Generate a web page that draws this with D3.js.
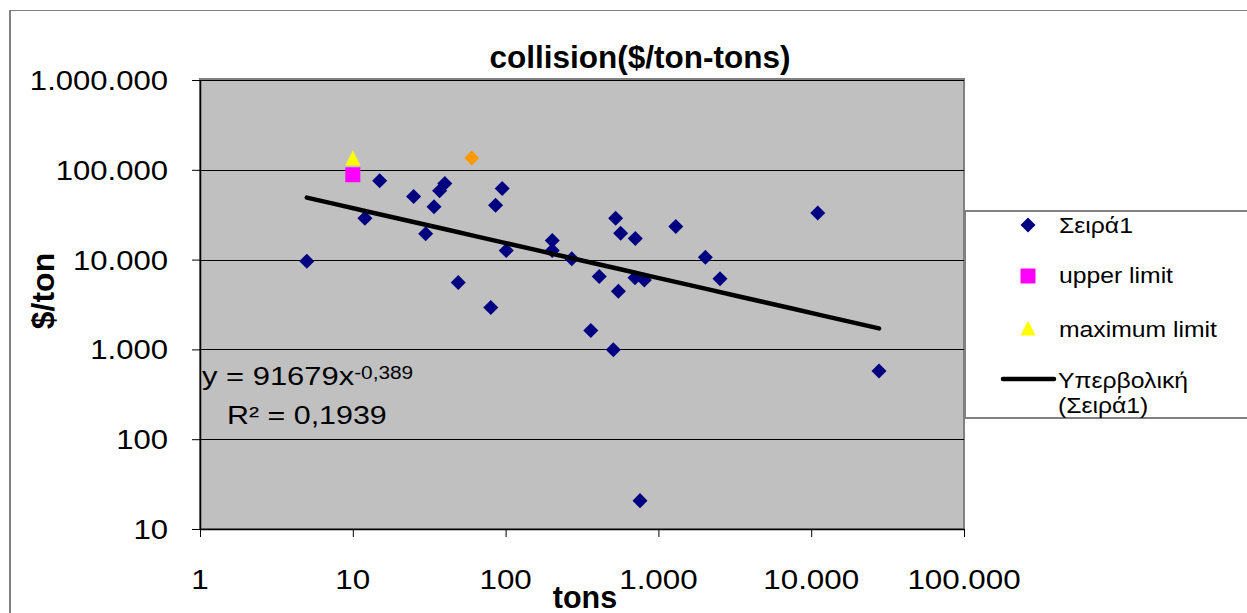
<!DOCTYPE html>
<html>
<head>
<meta charset="utf-8">
<script src="https://cdn.jsdelivr.net/npm/d3@7/dist/d3.min.js"></script>
<style>
  html, body { margin: 0; padding: 0; background: #fff; }
  svg { display: block; font-family: "Liberation Sans", Arial, sans-serif; }
</style>
</head>
<body>
<svg id="chart" width="1247" height="613"></svg>
<script>
// Collision cost per ton vs. vessel tonnage (log-log)
const seriesX = [5, 12, 15, 25, 30, 34, 37, 40, 49, 80, 86, 95, 101, 202, 202, 271, 410, 525, 566, 706,
                 1300, 703, 809, 547, 2030, 2530, 361, 507, 758, 11040, 27780];
const seriesY = [9600, 28800, 75500, 50500, 19400, 38800, 58400, 70500, 5550, 2930, 40200, 62000, 12600,
                 16300, 12600, 10200, 6470, 28800, 19600, 17200, 23400, 6270, 5940, 4450, 10600, 6110,
                 1625, 993, 20.7, 33000, 574];
const upperX = [10];
const upperY = [88000];
const maxLimitX = [10];
const maxLimitY = [135000];
const extraX = [60];
const extraY = [135000];

// Power trend line y = a * x^b
const trendA = 91679;
const trendB = -0.389;
const trendR2 = "0,1939";

const xTicks = [1, 10, 100, 1000, 10000, 100000];
const yTicks = [10, 100, 1000, 10000, 100000, 1000000];

const legendLabels = ["Σειρά1", "upper limit", "maximum limit", "Υπερβολική", "(Σειρά1)"];

const svg = d3.select("#chart");
const grLocale = d3.formatLocale({decimal: ",", thousands: ".", grouping: [3], currency: ["", "€"]});
const fmt = grLocale.format(",d");

const plot = {left: 200, right: 964, top: 80, bottom: 529};
const x = d3.scaleLog().domain([1, 100000]).range([plot.left, plot.right]);
const y = d3.scaleLog().domain([10, 1000000]).range([plot.bottom, plot.top]);

// chart area frame
svg.append("rect").attr("x", 10).attr("y", 10.5).attr("width", 1300).attr("height", 700)
  .attr("fill", "#fff").attr("stroke", "#808080").attr("stroke-width", 1);
svg.append("line").attr("x1", 10).attr("x2", 10).attr("y1", 10).attr("y2", 613)
  .attr("stroke", "#808080").attr("stroke-width", 2);

// plot area
svg.append("rect").attr("x", plot.left).attr("y", plot.top - 1)
  .attr("width", plot.right - plot.left).attr("height", plot.bottom - plot.top + 1)
  .attr("fill", "#c0c0c0").attr("stroke", "#808080").attr("stroke-width", 2);

// horizontal gridlines
svg.append("g").selectAll("line").data(yTicks.slice(1)).join("line")
  .attr("x1", plot.left).attr("x2", plot.right)
  .attr("y1", d => Math.round(y(d)) + 0.5).attr("y2", d => Math.round(y(d)) + 0.5)
  .attr("stroke", "#000").attr("stroke-width", 1);

// axes
const xAxis = d3.axisBottom(x).tickValues(xTicks).tickFormat("").tickSize(8).tickSizeOuter(0);
svg.append("g").attr("transform", `translate(0,${plot.bottom})`).call(xAxis)
  .call(g => g.select(".domain").attr("stroke", "#000").attr("stroke-width", 1.5))
  .call(g => g.selectAll(".tick line").attr("stroke", "#000"));
const yAxis = d3.axisLeft(y).tickValues(yTicks).tickFormat("").tickSize(8).tickSizeOuter(0);
svg.append("g").attr("transform", `translate(${plot.left},0)`).call(yAxis)
  .call(g => g.select(".domain").attr("stroke", "#000").attr("stroke-width", 1.5))
  .call(g => g.selectAll(".tick line").attr("stroke", "#000"));

// tick labels (slightly wide glyphs)
svg.append("g").selectAll("text").data(xTicks).join("text")
  .attr("transform", d => `translate(${x(d)},589) scale(1.1,1)`)
  .attr("text-anchor", "middle").attr("font-size", 28.5).attr("fill", "#000")
  .text(d => fmt(d));
svg.append("g").selectAll("text").data(yTicks).join("text")
  .attr("transform", d => `translate(168,${y(d) + 10}) scale(1.09,1)`)
  .attr("text-anchor", "end").attr("font-size", 28.5).attr("fill", "#000")
  .text(d => fmt(d));

// titles
svg.append("text").attr("x", 640).attr("y", 68).attr("text-anchor", "middle")
  .attr("font-size", 31.5).attr("font-weight", "bold").text("collision($/ton-tons)");
svg.append("text").attr("transform", "translate(54,291) rotate(-90)").attr("text-anchor", "middle")
  .attr("font-size", 32).attr("font-weight", "bold").text("$/ton");
svg.append("text").attr("x", 585).attr("y", 608).attr("text-anchor", "middle")
  .attr("font-size", 30.5).attr("font-weight", "bold").text("tons");

// marker shapes
const diamond = d3.symbol().type(d3.symbolSquare).size(113);
const square = d3.symbol().type(d3.symbolSquare).size(225);
const triangle = "M0,-7.5L7.5,7.5L-7.5,7.5Z";

const marks = svg.append("g");
// trend line
const xMin = d3.min(seriesX), xMax = d3.max(seriesX);
const trendPts = d3.range(0, 21).map(i => {
  const xv = Math.exp(Math.log(xMin) + (Math.log(xMax) - Math.log(xMin)) * i / 20);
  return [xv, trendA * Math.pow(xv, trendB)];
});

marks.selectAll(".s1").data(d3.zip(seriesX, seriesY)).join("path").attr("class", "s1")
  .attr("d", diamond)
  .attr("transform", d => `translate(${x(d[0])},${y(d[1])}) rotate(45)`)
  .attr("fill", "#000080");

marks.append("path")
  .attr("d", d3.line().x(d => x(d[0])).y(d => y(d[1]))(trendPts))
  .attr("fill", "none").attr("stroke", "#000").attr("stroke-width", 4.5).attr("stroke-linecap", "round");

marks.selectAll(".ex").data(d3.zip(extraX, extraY)).join("path").attr("class", "ex")
  .attr("d", diamond)
  .attr("transform", d => `translate(${x(d[0])},${y(d[1])}) rotate(45)`)
  .attr("fill", "#ff9900");
marks.selectAll(".up").data(d3.zip(upperX, upperY)).join("path").attr("class", "up")
  .attr("d", square)
  .attr("transform", d => `translate(${x(d[0])},${y(d[1])})`)
  .attr("fill", "#ff00ff");
marks.selectAll(".mx").data(d3.zip(maxLimitX, maxLimitY)).join("path").attr("class", "mx")
  .attr("d", triangle)
  .attr("transform", d => `translate(${x(d[0])},${y(d[1])})`)
  .attr("fill", "#ffff00");

// trend equation
const eq = svg.append("g").attr("font-size", 26).attr("fill", "#000");
const eqLine = eq.append("text").attr("transform", "translate(202,385) scale(1.19,1)");
eqLine.append("tspan").text("y = " + trendA + "x");
eqLine.append("tspan").attr("dy", -6).attr("font-size", 17.5)
  .text(String(trendB).replace(".", ","));
eq.append("text").attr("transform", "translate(227,424) scale(1.17,1)").text("R² = " + trendR2);

// legend
const lg = svg.append("g");
lg.append("rect").attr("x", 965).attr("y", 211).attr("width", 400).attr("height", 207)
  .attr("fill", "#fff").attr("stroke", "#808080").attr("stroke-width", 2);
lg.append("path").attr("d", diamond).attr("transform", "translate(1028,225) rotate(45)").attr("fill", "#000080");
lg.append("path").attr("d", square).attr("transform", "translate(1028,276)").attr("fill", "#ff00ff");
lg.append("path").attr("d", triangle).attr("transform", "translate(1028,328)").attr("fill", "#ffff00");
lg.append("line").attr("x1", 1003).attr("x2", 1054).attr("y1", 379).attr("y2", 379)
  .attr("stroke", "#000").attr("stroke-width", 4.5).attr("stroke-linecap", "round");
const lgPos = [[1059, 233], [1059, 283], [1059, 337], [1058, 388], [1058, 413]];
lg.selectAll("text").data(legendLabels).join("text")
  .attr("transform", (d, i) => `translate(${lgPos[i][0]},${lgPos[i][1]}) scale(1.15,1)`)
  .attr("font-size", 21.5).attr("fill", "#000").text(d => d);
</script>
</body>
</html>
